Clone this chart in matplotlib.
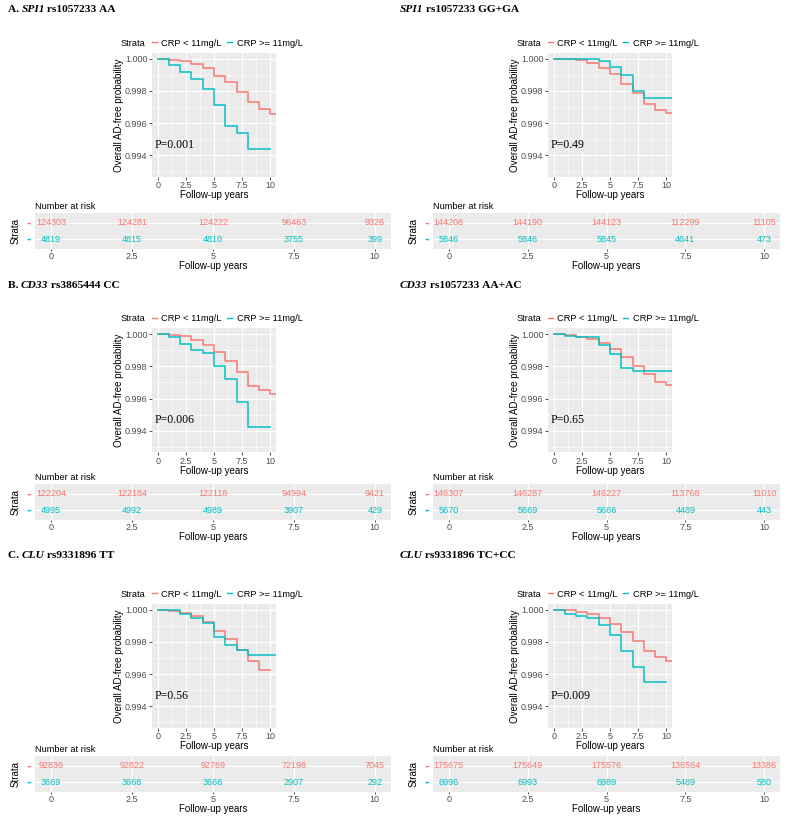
import matplotlib
matplotlib.use('Agg')
import matplotlib.pyplot as plt
from matplotlib.lines import Line2D

RED = '#F8766D'
CYAN = '#00BFC4'
SANS = 'Liberation Sans'
SERIF = 'Liberation Serif'

# panel titles: prefix, gene (italic), rest
titles = [('A. ', 'SPI1', ' rs1057233 AA'), ('', 'SPI1', ' rs1057233 GG+GA'),
          ('B. ', 'CD33', ' rs3865444 CC'), ('', 'CD33', ' rs1057233 AA+AC'),
          ('C. ', 'CLU', ' rs9331896 TT'), ('', 'CLU', ' rs9331896 TC+CC')]
p_values = ['P=0.001', 'P=0.49', 'P=0.006', 'P=0.65', 'P=0.56', 'P=0.009']
strata = ['CRP < 11mg/L', 'CRP >= 11mg/L']

yrs10 = [0, 1, 2, 3, 4, 5, 6, 7, 8, 9, 10]
yrs_end = [0, 1, 2, 3, 4, 5, 6, 7, 8, 9, 10, 10.5]

# survival curves, CRP < 11mg/L
low_t = [yrs_end, yrs_end, yrs_end, yrs_end, yrs10, yrs_end]
low_s = [
    [1.0, .99994, .99986, .99969, .99940, .99891, .99858, .99790, .99728, .99685, .99658, .99658],
    [1.0, .99996, .99990, .99971, .99940, .99905, .99843, .99784, .99720, .99680, .99662, .99662],
    [1.0, .99994, .99986, .99963, .99932, .99889, .99831, .99764, .99681, .99653, .99628, .99628],
    [1.0, .99994, .99984, .99971, .99947, .99906, .99861, .99801, .99752, .99703, .99687, .99687],
    [1.0, .99992, .99982, .99961, .99926, .99870, .99815, .99751, .99681, .99626, .99626],
    [1.0, .99996, .99988, .99971, .99946, .99913, .99864, .99804, .99742, .99707, .99682, .99682],
]
# survival curves, CRP >= 11mg/L
high_t = [yrs10, yrs_end, yrs10, yrs_end, yrs_end, yrs10]
high_s = [
    [1.0, .99959, .99915, .99874, .99812, .99709, .99581, .99540, .99437, .99437, .99437],
    [1.0, 1.0, 1.0, 1.0, .99986, .99950, .99899, .99796, .99753, .99753, .99753, .99753],
    [1.0, .99982, .99938, .99899, .99883, .99800, .99720, .99580, .99426, .99426, .99426],
    [1.0, .99986, .99984, .99980, .99930, .99875, .99789, .99771, .99771, .99771, .99771, .99771],
    [1.0, .99996, .99973, .99945, .99918, .99831, .99778, .99747, .99718, .99718, .99718, .99718],
    [1.0, .99975, .99961, .99946, .99903, .99843, .99744, .99641, .99553, .99553, .99553],
]

risk_times = [0, 2.5, 5, 7.5, 10]
risk_low = [
    [124303, 124281, 124222, 96463, 9326],
    [144208, 144190, 144123, 112299, 11105],
    [122204, 122184, 122118, 94994, 9421],
    [146307, 146287, 146227, 113768, 11010],
    [92836, 92822, 92769, 72198, 7045],
    [175675, 175649, 175576, 136564, 13386],
]
risk_high = [
    [4819, 4815, 4810, 3755, 399],
    [5846, 5846, 5845, 4641, 473],
    [4995, 4992, 4989, 3907, 429],
    [5670, 5669, 5666, 4489, 443],
    [3669, 3668, 3666, 2907, 292],
    [6996, 6993, 6989, 5489, 580],
]

W, H = 787, 822
fig = plt.figure(figsize=(W / 100, H / 100), dpi=100)
renderer = fig.canvas.get_renderer()


def px(left, top, width, height):
    return [left / W, 1 - (top + height) / H, width / W, height / H]


def ggstyle(ax):
    ax.set_facecolor('#EBEBEB')
    for s in ax.spines.values():
        s.set_visible(False)
    ax.grid(True, which='major', color='white', linewidth=0.8)
    ax.grid(True, which='minor', color='white', linewidth=0.4)
    ax.set_axisbelow(True)
    ax.tick_params(which='major', length=2.2, width=0.6, color='#333333',
                   labelsize=6.5, labelcolor='#4D4D4D', pad=1.0)
    ax.tick_params(which='minor', length=0)


def draw_title(x, y, parts):
    pre, gene, rest = parts
    cur = x
    for txt, style in [(pre, 'normal'), (gene, 'italic'), (rest, 'normal')]:
        if not txt:
            continue
        t = fig.text(cur / W, 1 - y / H, txt.replace(' ', '\u00a0'), family=SERIF,
                     weight='bold', style=style, fontsize=8.2, va='center', ha='left')
        cur += t.get_window_extent(renderer).width - 0.5


col_left = [152, 548]
tab_left = [35, 433]
tab_w = [356, 347]
plot_top = [53, 328.5, 604]
table_top = [213, 484, 756]
title_y = [10, 285, 556]

for i in range(6):
    r, c = divmod(i, 2)
    top = plot_top[r]
    draw_title(8 if c == 0 else 400, title_y[r], titles[i])

    # survival plot
    ax = fig.add_axes(px(col_left[c], top, 124, 124))
    ggstyle(ax)
    ax.step(low_t[i], low_s[i], where='post', color=RED, linewidth=1.2, alpha=0.9)
    ax.step(high_t[i], high_s[i], where='post', color=CYAN, linewidth=1.2, alpha=0.9)
    ax.set_xlim(-0.5, 10.5)
    ax.set_ylim(0.99265, 1.00035)
    ax.set_xticks([0, 2.5, 5, 7.5, 10])
    ax.set_xticklabels(['0', '2.5', '5', '7.5', '10'])
    ax.set_xticks([1.25, 3.75, 6.25, 8.75], minor=True)
    ax.set_yticks([0.994, 0.996, 0.998, 1.000])
    ax.set_yticklabels(['0.994', '0.996', '0.998', '1.000'])
    ax.set_yticks([0.993, 0.995, 0.997, 0.999], minor=True)
    ax.set_xlabel('Follow-up years', fontsize=7, family=SANS, labelpad=0)
    ax.set_ylabel('Overall AD-free probability', fontsize=7, family=SANS, labelpad=0.5)
    for lab in ax.get_xticklabels() + ax.get_yticklabels():
        lab.set_family(SANS)
    ax.text(0.025, 0.26, p_values[i], transform=ax.transAxes, family=SERIF,
            fontsize=8.5, va='center', ha='left')
    ax.text(-0.255, 1.08, 'Strata', transform=ax.transAxes, family=SANS,
            fontsize=6.7, va='center', ha='left')
    handles = [Line2D([], [], color=RED, linewidth=1.0),
               Line2D([], [], color=CYAN, linewidth=1.0)]
    ax.legend(handles, strata, ncol=2, loc='center left',
              bbox_to_anchor=(-0.03, 1.08), frameon=False, handlelength=0.5,
              handletextpad=0.5, columnspacing=0.6, borderaxespad=0,
              prop={'family': SANS, 'size': 6.7})

    # risk table
    tb = fig.add_axes(px(tab_left[c], table_top[r], tab_w[c], 36))
    ggstyle(tb)
    tb.grid(False, which='minor')
    tb.set_xlim(-0.5, 10.5)
    tb.set_ylim(0.4, 2.6)
    tb.set_xticks(risk_times)
    tb.set_xticklabels(['0', '2.5', '5', '7.5', '10'])
    tb.tick_params(axis='x', length=1.2, pad=0.8)
    tb.set_yticks([2, 1])
    tb.set_yticklabels(['-', '-'], fontsize=8, fontweight='bold')
    for lab, col in zip(tb.get_yticklabels(), [RED, CYAN]):
        lab.set_color(col)
    tb.tick_params(axis='y', length=0, pad=3)
    for lab in tb.get_xticklabels():
        lab.set_family(SANS)
    for t, n in zip(risk_times, risk_low[i]):
        tb.text(t, 2, str(n), color=RED, fontsize=6.5, family=SANS, ha='center', va='center')
    for t, n in zip(risk_times, risk_high[i]):
        tb.text(t, 1, str(n), color=CYAN, fontsize=6.5, family=SANS, ha='center', va='center')
    tb.set_title('Number at risk', loc='left', fontsize=6.7, family=SANS, pad=3)
    tb.set_xlabel('Follow-up years', fontsize=7, family=SANS, labelpad=0)
    tb.set_ylabel('Strata', fontsize=7, family=SANS, labelpad=4)

fig.savefig('out.png', dpi=100)
